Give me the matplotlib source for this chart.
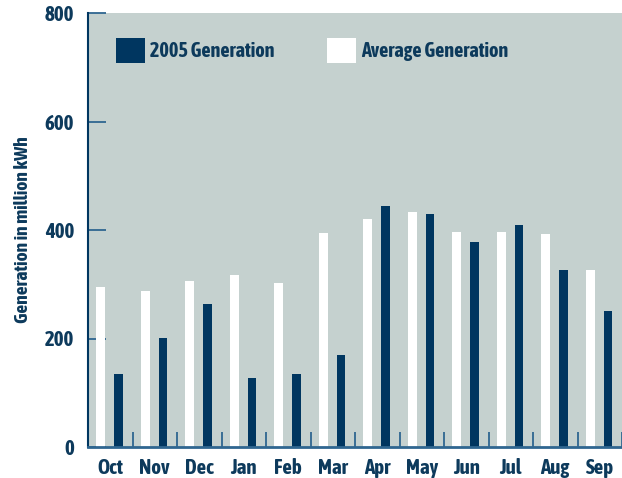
import matplotlib
matplotlib.use("Agg")
import matplotlib.pyplot as plt
import numpy as np

months = ["Oct", "Nov", "Dec", "Jan", "Feb", "Mar", "Apr", "May", "Jun", "Jul", "Aug", "Sep"]
gen_2005 = [135, 201, 263, 127, 135, 170, 444, 429, 378, 409, 326, 251]
gen_avg = [295, 288, 306, 317, 302, 394, 420, 433, 396, 396, 393, 326]

NAVY = "#003660"
TXT = "#0d3a5c"
BG = "#c5d1cf"
AXIS_B = "#2f6690"

plt.rcParams["font.family"] = ["Asap Condensed", "DejaVu Sans"]
plt.rcParams["font.weight"] = "bold"
plt.rcParams["axes.labelweight"] = "bold"

fig = plt.figure(figsize=(6.22, 4.78), dpi=100)
ax = fig.add_axes([88 / 622, 31 / 478, 534 / 622, 434 / 478])
ax.set_facecolor(BG)
ax.set_axisbelow(True)

x = np.arange(len(months))
w = 0.2
ax.bar(x - 0.21, gen_avg, w, color="white", label="Average Generation", zorder=2)
ax.bar(x + 0.185, gen_2005, w, color=NAVY, label="2005 Generation", zorder=2)

ax.set_xlim(-0.5, len(months) - 0.5)
ax.set_ylim(0, 800)
ax.set_yticks([0, 200, 400, 600, 800])
ax.tick_params(axis="y", direction="in", length=13, width=1.3, color=AXIS_B,
               labelsize=15, labelcolor=TXT, pad=10)
ax.set_xticks(x)
ax.set_xticklabels(months)
ax.tick_params(axis="x", length=0, labelsize=15, labelcolor=TXT, pad=8)
ax.set_xticks(np.arange(len(months) + 1) - 0.5, minor=True)
ax.tick_params(axis="x", which="minor", direction="in", length=11, width=1.3, color=AXIS_B)

for s in ("top", "right"):
    ax.spines[s].set_visible(False)
ax.spines["left"].set_color(NAVY)
ax.spines["left"].set_linewidth(1.5)
ax.spines["bottom"].set_color(AXIS_B)
ax.spines["bottom"].set_linewidth(2)

ax.set_ylabel("Generation in million kWh", fontsize=14, color=TXT, labelpad=9)

h, l = ax.get_legend_handles_labels()
ax.legend(h[::-1], l[::-1], ncol=2, frameon=False, loc="upper left",
          bbox_to_anchor=(0.052, 0.942), borderpad=0, borderaxespad=0,
          handlelength=1.45, handleheight=1.5, handletextpad=0.25,
          columnspacing=2.6, fontsize=14.5, labelcolor=TXT)

fig.savefig("out.png", dpi=100, facecolor="white")
